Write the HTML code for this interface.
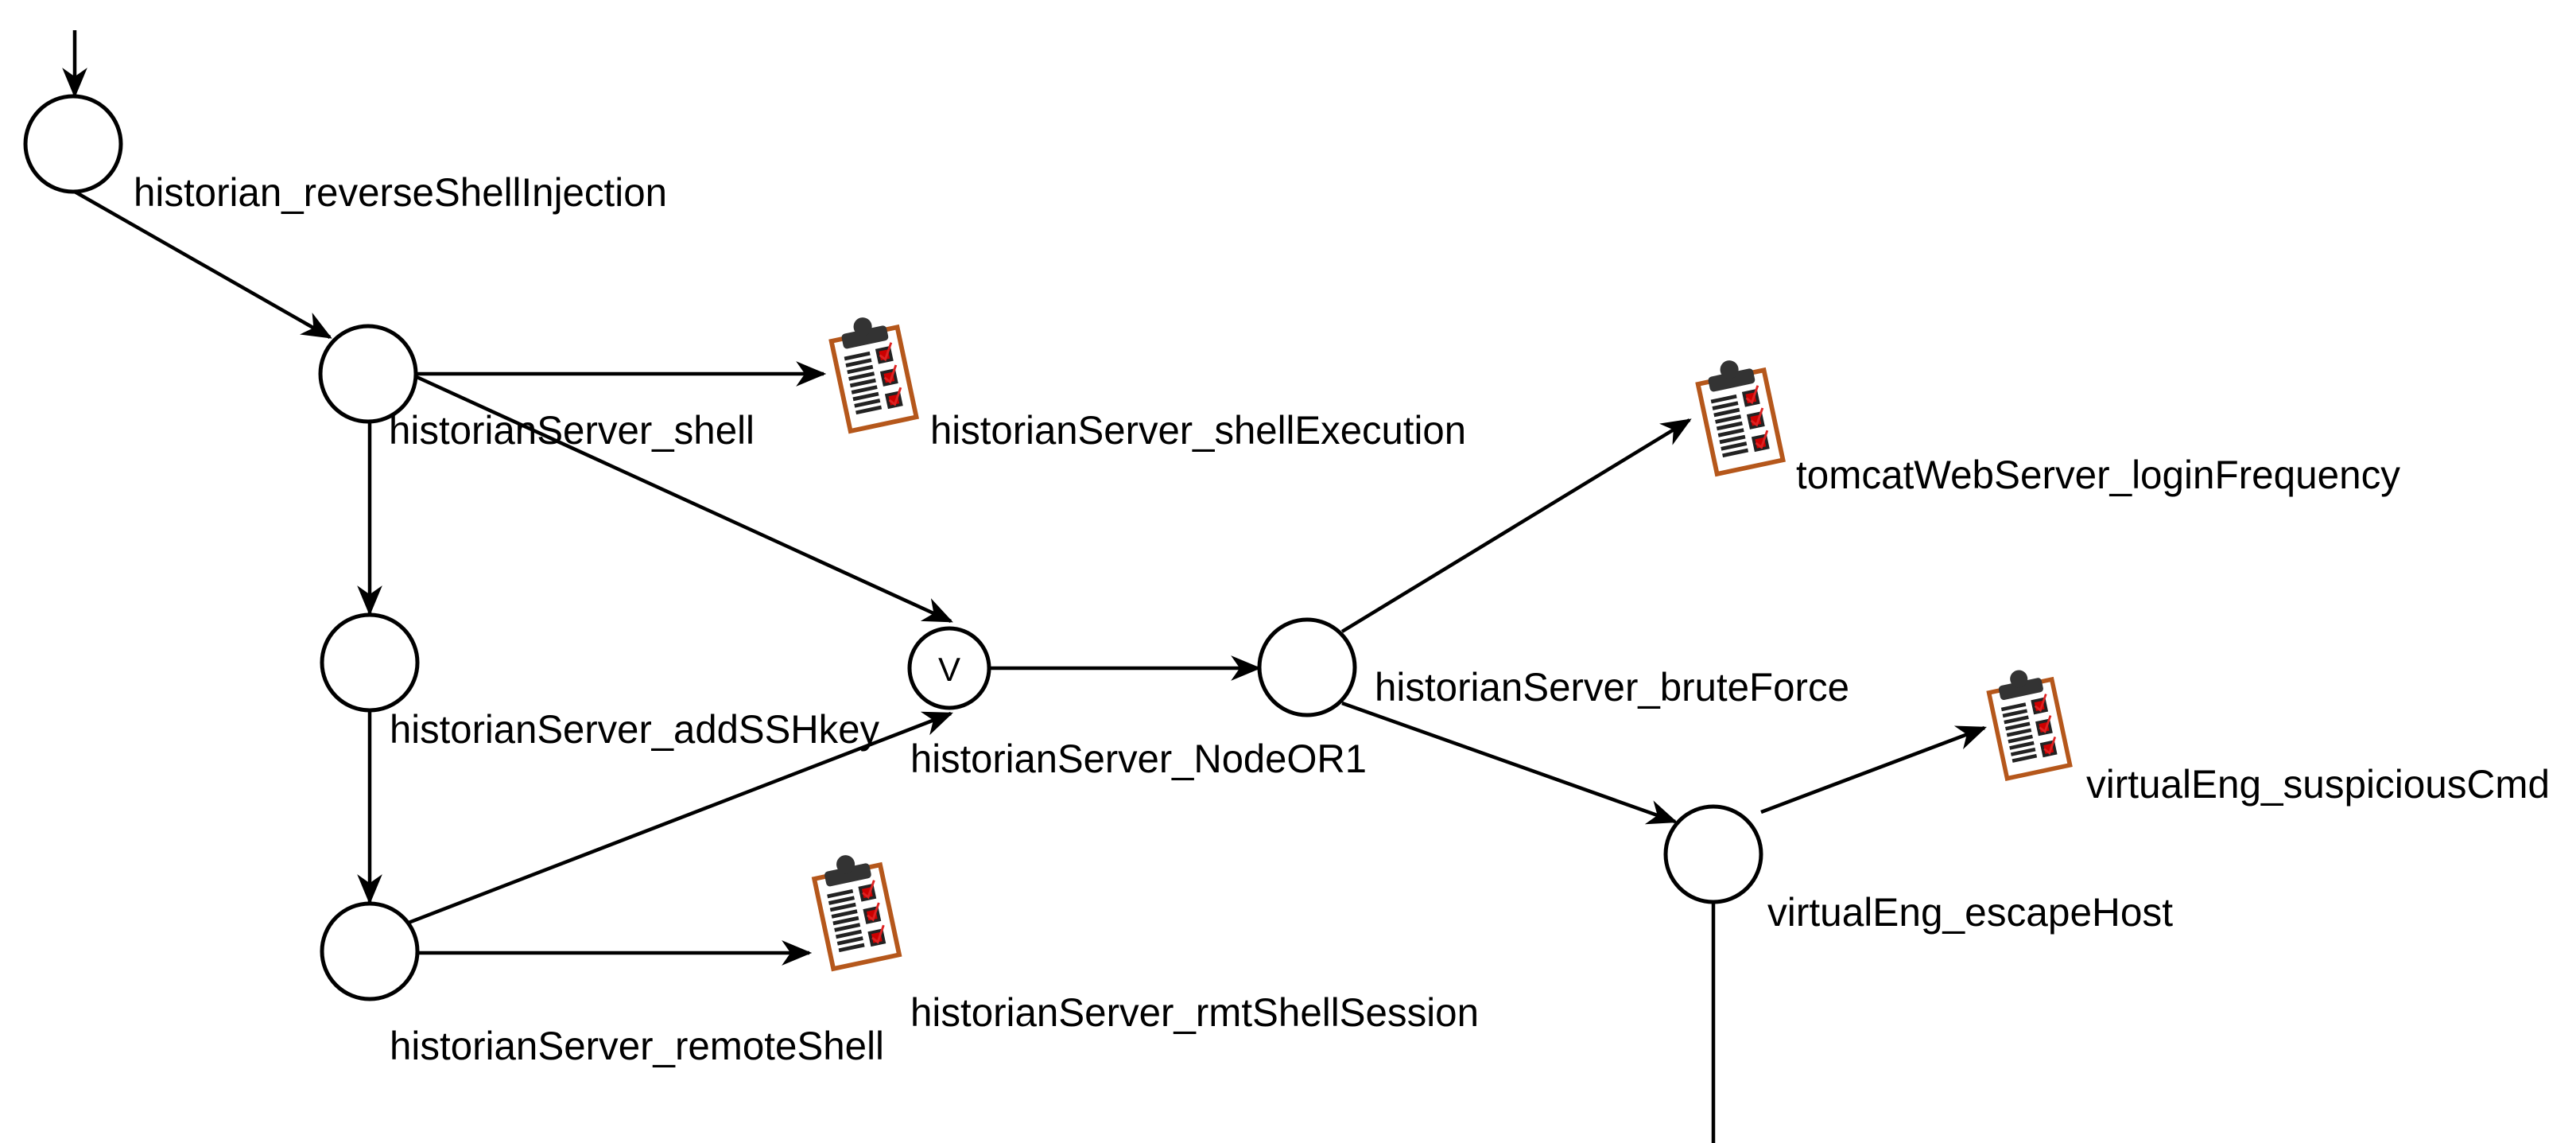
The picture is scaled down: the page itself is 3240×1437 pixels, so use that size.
<!DOCTYPE html>
<html><head><meta charset="utf-8"><style>html,body{margin:0;padding:0;background:#fff}svg{display:block}symbol{overflow:visible}</style></head>
<body>
<svg width="3240" height="1437" viewBox="0 0 3240 1437" xmlns="http://www.w3.org/2000/svg">
<defs>
<marker id="a" viewBox="0 0 12 10" refX="11" refY="5" markerWidth="38" markerHeight="32" markerUnits="userSpaceOnUse" orient="auto">
<path d="M0,0 L12,5 L0,10 L3.5,5 z" fill="#000"/>
</marker>
<symbol id="clip" viewBox="0 0 120 150" style="overflow:visible">
<g transform="translate(0,-4) rotate(-12 60 80) scale(0.95) translate(3,4)">
<rect x="16" y="24" width="88" height="120" fill="#fff" stroke="#b5571b" stroke-width="6"/>
<rect x="30" y="18" width="60" height="20" rx="5" fill="#333"/>
<circle cx="60" cy="14" r="12" fill="#333"/>
<g stroke="#222" stroke-width="5">
<line x1="28" y1="50" x2="62" y2="50"/><line x1="28" y1="59" x2="62" y2="59"/>
<line x1="28" y1="68" x2="62" y2="68"/><line x1="28" y1="77" x2="62" y2="77"/>
<line x1="28" y1="86" x2="62" y2="86"/><line x1="28" y1="95" x2="62" y2="95"/>
<line x1="28" y1="104" x2="62" y2="104"/><line x1="28" y1="113" x2="62" y2="113"/>
<line x1="28" y1="122" x2="62" y2="122"/>
</g>
<g fill="#c00" stroke="#222" stroke-width="4">
<rect x="72" y="48" width="16" height="16"/><rect x="72" y="78" width="16" height="16"/><rect x="72" y="108" width="16" height="16"/>
</g>
<g stroke="#d22" stroke-width="3" fill="none">
<path d="M74,55 l6,7 l12,-20"/><path d="M74,85 l6,7 l12,-20"/><path d="M74,115 l6,7 l12,-20"/>
</g>
</g>
</symbol>
</defs>

<g stroke="#000" stroke-width="4.5" fill="none">
<line x1="94" y1="38" x2="94" y2="120" marker-end="url(#a)"/>
<line x1="94" y1="241" x2="415" y2="424" marker-end="url(#a)"/>
<line x1="522" y1="470" x2="1036" y2="470" marker-end="url(#a)"/>
<line x1="522" y1="473" x2="1196" y2="781" marker-end="url(#a)"/>
<line x1="465" y1="530" x2="465" y2="771" marker-end="url(#a)"/>
<line x1="465" y1="893" x2="465" y2="1134" marker-end="url(#a)"/>
<line x1="506" y1="1163" x2="1196" y2="897" marker-end="url(#a)"/>
<line x1="525" y1="1198" x2="1018" y2="1198" marker-end="url(#a)"/>
<line x1="1244" y1="840" x2="1583" y2="840" marker-end="url(#a)"/>
<line x1="1688" y1="794" x2="2125" y2="528" marker-end="url(#a)"/>
<line x1="1688" y1="884" x2="2107" y2="1033" marker-end="url(#a)"/>
<line x1="2215" y1="1021" x2="2496" y2="915" marker-end="url(#a)"/>
<line x1="2155" y1="1134" x2="2155" y2="1437"/>
</g>

<g stroke="#000" stroke-width="5" fill="#fff">
<circle cx="92" cy="181" r="60"/>
<circle cx="463" cy="470" r="60"/>
<circle cx="465" cy="833" r="60"/>
<circle cx="465" cy="1196" r="60"/>
<circle cx="1194" cy="840" r="50"/>
<circle cx="1644" cy="839" r="60"/>
<circle cx="2155" cy="1074" r="60"/>
</g>

<use href="#clip" x="1036" y="396" width="125" height="152"/>
<use href="#clip" x="2126" y="450" width="125" height="152"/>
<use href="#clip" x="1016" y="1072" width="122" height="152"/>
<use href="#clip" x="2494" y="836" width="116" height="152"/>

<g font-family="Liberation Sans, Arial, sans-serif" font-size="50" fill="#000">
<text x="1194" y="856" text-anchor="middle" font-size="42">V</text>
<text x="168" y="259" textLength="671" lengthAdjust="spacingAndGlyphs">historian_reverseShellInjection</text>
<text x="489" y="558" textLength="460" lengthAdjust="spacingAndGlyphs">historianServer_shell</text>
<text x="1170" y="558" textLength="674" lengthAdjust="spacingAndGlyphs">historianServer_shellExecution</text>
<text x="490" y="934" textLength="616" lengthAdjust="spacingAndGlyphs">historianServer_addSSHkey</text>
<text x="1145" y="971" textLength="574" lengthAdjust="spacingAndGlyphs">historianServer_NodeOR1</text>
<text x="1729" y="881" textLength="597" lengthAdjust="spacingAndGlyphs">historianServer_bruteForce</text>
<text x="2259" y="614" textLength="760" lengthAdjust="spacingAndGlyphs">tomcatWebServer_loginFrequency</text>
<text x="1145" y="1290" textLength="715" lengthAdjust="spacingAndGlyphs">historianServer_rmtShellSession</text>
<text x="490" y="1332" textLength="622" lengthAdjust="spacingAndGlyphs">historianServer_remoteShell</text>
<text x="2223" y="1164" textLength="510" lengthAdjust="spacingAndGlyphs">virtualEng_escapeHost</text>
<text x="2624" y="1003" textLength="583" lengthAdjust="spacingAndGlyphs">virtualEng_suspiciousCmd</text>
</g>
</svg>
</body></html>
